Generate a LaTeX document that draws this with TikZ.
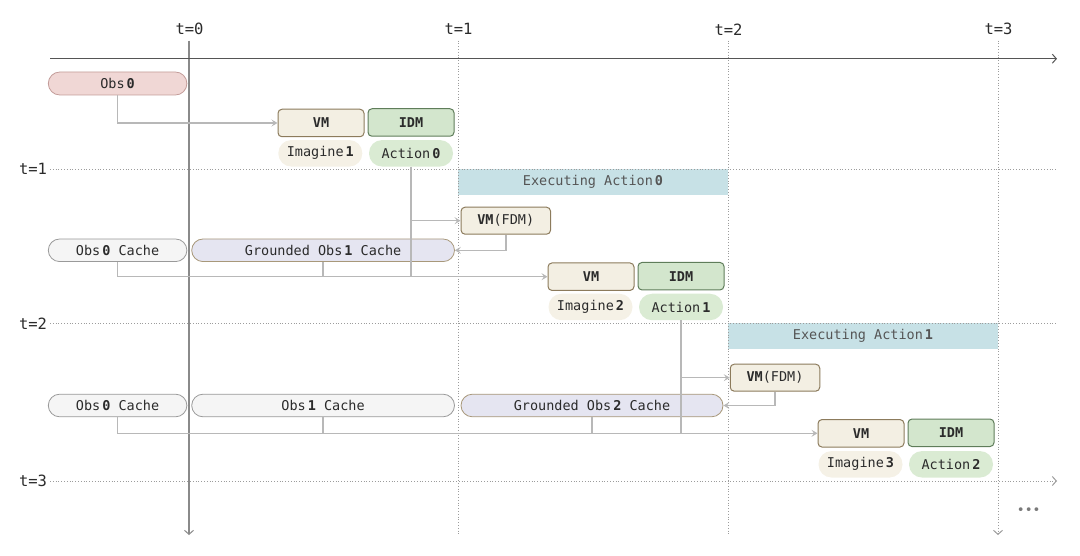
\documentclass[tikz,border=0pt]{standalone}
\usepackage{fontspec}
\setmonofont{DejaVu Sans Mono}
\usetikzlibrary{arrows.meta}
\definecolor{obsfill}{HTML}{F0D7D5}
\definecolor{obsdraw}{HTML}{C39C99}
\definecolor{vmfill}{HTML}{F3EFE3}
\definecolor{vmdraw}{HTML}{8C7B5C}
\definecolor{idmfill}{HTML}{D3E6CD}
\definecolor{idmdraw}{HTML}{5F7D5A}
\definecolor{imfill}{HTML}{F5F1E6}
\definecolor{actfill}{HTML}{DAEBD3}
\definecolor{execfill}{HTML}{C7E1E6}
\definecolor{cachefill}{HTML}{F5F5F5}
\definecolor{cachedraw}{HTML}{9A9A9A}
\definecolor{grdfill}{HTML}{E5E5F1}
\definecolor{grddraw}{HTML}{A8987A}
\definecolor{connc}{HTML}{B8B8B8}
\definecolor{textdark}{HTML}{2B2B2B}
\definecolor{axisc}{HTML}{555555}
\definecolor{gridc}{HTML}{9C9C9C}
\definecolor{tzero}{HTML}{8A8A8A}
\definecolor{dotc}{HTML}{7A7A7A}
\begin{document}
\begin{tikzpicture}[x=1pt,y=-1pt,
  font=\ttfamily\fontsize{13.5}{15}\selectfont,
  base/.style={inner sep=0pt, align=center, text=textdark},
  obsbox/.style={base, draw=obsdraw, fill=obsfill, line width=0.8pt, rounded corners=11.5pt, minimum height=23pt},
  vmbox/.style={base, draw=vmdraw, fill=vmfill, line width=1pt, rounded corners=4pt, minimum width=86pt, minimum height=27.5pt, font=\ttfamily\bfseries\fontsize{13.5}{15}\selectfont},
  fdmbox/.style={base, draw=vmdraw, fill=vmfill, line width=1pt, rounded corners=4pt, minimum width=89.5pt, minimum height=27pt},
  idmbox/.style={base, draw=idmdraw, fill=idmfill, line width=1pt, rounded corners=4pt, minimum width=86pt, minimum height=27.5pt, font=\ttfamily\bfseries\fontsize{13.5}{15}\selectfont},
  impill/.style={base, fill=imfill, rounded corners=13pt, minimum width=84pt, minimum height=26.5pt},
  actpill/.style={base, fill=actfill, rounded corners=13pt, minimum width=84pt, minimum height=26.5pt},
  execbox/.style={base, fill=execfill, minimum width=270pt, minimum height=26pt, text=axisc},
  cachebox/.style={base, draw=cachedraw, fill=cachefill, line width=0.8pt, rounded corners=11.3pt, minimum height=22.6pt},
  grdbox/.style={base, draw=grddraw, fill=grdfill, line width=0.8pt, rounded corners=11.3pt, minimum height=22.6pt},
  conn/.style={draw=connc, line width=1.4pt},
  carrow/.style={conn, -{Stealth[length=6pt,width=7pt,inset=2.5pt]}},
  chev/.style={-{Straight Barb[length=4pt,width=9pt,line width=1pt]}},
  tlabel/.style={inner sep=0pt, text=textdark, font=\ttfamily\fontsize{15.5}{17}\selectfont},
  gridline/.style={draw=gridc, line width=0.8pt, dotted},
]
\useasboundingbox (0,0) rectangle (1080,556);

% ---- axis coordinates
\coordinate (axL) at (50,58.7);
\coordinate (axR) at (1057,58.7);
\foreach \n/\x in {0/189,1/458,2/728,3/998}{
  \coordinate (v\n top) at (\x,40.7);
  \coordinate (v\n bot) at (\x,535);
  \node[tlabel] (lab\n) at (\x+0.5,29.3) {t=\n};
}
\foreach \n/\y in {1/169.3,2/323.3,3/481}{
  \coordinate (r\n L) at (50,\y);
  \coordinate (r\n R) at (1057,\y);
  \node[tlabel] (rlab\n) at (33,\y) {t=\n};
}

% ---- background boxes
\node[execbox] (exec0) at (593,182) {Executing Action\kern2pt\textbf{0}};
\node[execbox] (exec1) at (863,336.2) {Executing Action\kern2pt\textbf{1}};

% ---- grid lines
\draw[gridline] (r1L) -- (r1R);
\draw[gridline] (r2L) -- (r2R);
\draw[gridline, chev] (r3L) -- (r3R);
\draw[gridline] (v1top) -- (v1bot);
\draw[gridline] (v2top) -- (v2bot);
\draw[gridline, chev] (v3top) -- (v3bot);
\draw[draw=tzero, line width=1.2pt, chev] (v0top) -- (v0bot);
\draw[draw=axisc, line width=1.1pt, chev] (axL) -- (axR);

% ---- row 0
\node[obsbox, minimum width=138.6pt] (obs0) at (117.6,83.5) {Obs\kern2pt\textbf{0}};
\node[vmbox] (vm1) at (321,123) {VM};
\node[idmbox] (idm1) at (411,122.5) {IDM};
\node[impill] (im1) at (320.3,153.3) {Imagine\kern2pt\textbf{1}};
\node[actpill] (act0) at (411,153.3) {Action\kern2pt\textbf{0}};

% ---- row 1
\node[fdmbox] (fdm1) at (505.8,220.7) {\textbf{VM}(FDM)};
\node[cachebox, minimum width=138.6pt] (c0a) at (117.6,250.3) {Obs\kern2pt\textbf{0} Cache};
\node[grdbox, minimum width=262.8pt] (grd1) at (323.1,250.3) {Grounded Obs\kern2pt\textbf{1} Cache};
\node[vmbox] (vm2) at (591,276.7) {VM};
\node[idmbox] (idm2) at (681,276.2) {IDM};
\node[impill] (im2) at (590.5,307) {Imagine\kern2pt\textbf{2}};
\node[actpill] (act1) at (681,307) {Action\kern2pt\textbf{1}};

% ---- row 2
\node[fdmbox] (fdm2) at (775,377.7) {\textbf{VM}(FDM)};
\node[cachebox, minimum width=138.6pt] (c0b) at (117.6,405.5) {Obs\kern2pt\textbf{0} Cache};
\node[cachebox, minimum width=262.8pt] (c1b) at (323.1,405.5) {Obs\kern2pt\textbf{1} Cache};
\node[grdbox, minimum width=262pt] (grd2) at (592,405.5) {Grounded Obs\kern2pt\textbf{2} Cache};
\node[vmbox] (vm3) at (861,433.3) {VM};
\node[idmbox] (idm3) at (951,432.8) {IDM};
\node[impill] (im3) at (860.5,464.3) {Imagine\kern2pt\textbf{3}};
\node[actpill] (act2) at (951,464.3) {Action\kern2pt\textbf{2}};

% ---- ellipsis
\node[inner sep=0pt, text=dotc, font=\ttfamily\fontsize{13}{13}\selectfont] (dots) at (1028.7,511) {•••};

% ---- connectors
\draw[carrow] (obs0.south) |- (vm1.west);

\draw[conn] (act0.south) -- (act0.south |- vm2.west);
\draw[carrow] (act0.south |- fdm1.west) -- (fdm1.west);
\draw[carrow] (fdm1.south) |- (grd1.east);
\draw[carrow] (c0a.south) |- (vm2.west);
\draw[conn] (grd1.south) -- (grd1.south |- vm2.west);

\draw[conn] (act1.south) -- (act1.south |- vm3.west);
\draw[carrow] (act1.south |- fdm2.west) -- (fdm2.west);
\draw[carrow] (fdm2.south) |- (grd2.east);
\draw[carrow] (c0b.south) |- (vm3.west);
\draw[conn] (c1b.south) -- (c1b.south |- vm3.west);
\draw[conn] (grd2.south) -- (grd2.south |- vm3.west);
\end{tikzpicture}
\end{document}
